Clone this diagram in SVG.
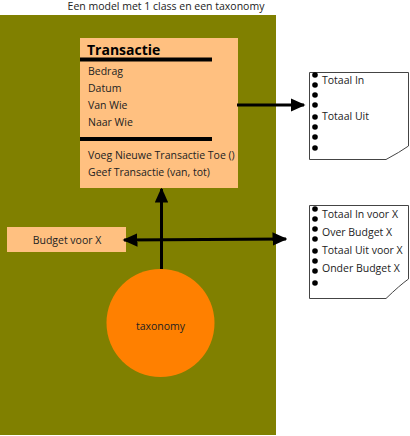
<svg xmlns="http://www.w3.org/2000/svg" width="410" height="436" viewBox="0 0 410 436">
<defs>
<style>
text{font-family:"Open Sans","Noto Sans","Liberation Sans",sans-serif;font-size:10.5px;fill:#222}
.ttl{font-weight:bold;font-size:14px;fill:#000}
.cls{fill:#ffc080}
.bar{stroke:#000;stroke-width:4}
.con{stroke:#000;stroke-width:3;fill:none}
.doc{fill:#fff;stroke:#444;stroke-width:1}
.dot{fill:#000}
</style>
<marker id="ah" viewBox="0 0 10 10" refX="9" refY="5" markerWidth="5" markerHeight="4.5" orient="auto-start-reverse" markerUnits="strokeWidth" preserveAspectRatio="none">
<path d="M0,0 L10,5 L0,10 z" fill="#000"/>
</marker>
</defs>
<rect width="410" height="436" fill="#fff"/>
<text x="166" y="10" text-anchor="middle">Een model met 1 class en een taxonomy</text>
<rect id="bg" x="0" y="15" width="276" height="420" fill="#808000"/>

<g id="transactie">
<rect class="cls" x="80" y="38" width="158" height="150"/>
<text class="ttl" x="87" y="55">Transactie</text>
<line class="bar" x1="80" y1="59.5" x2="212" y2="59.5"/>
<text x="88" y="75">Bedrag</text>
<text x="88" y="92">Datum</text>
<text x="88" y="109">Van Wie</text>
<text x="88" y="126">Naar Wie</text>
<line class="bar" x1="80" y1="139" x2="212" y2="139"/>
<text x="88" y="159">Voeg Nieuwe Transactie Toe ()</text>
<text x="88" y="176">Geef Transactie (van, tot)</text>
</g>

<g id="budget">
<rect class="cls" x="7" y="227" width="119" height="25"/>
<text x="67" y="244" text-anchor="middle">Budget voor X</text>
</g>

<g id="taxonomy">
<circle cx="160.5" cy="323" r="54" fill="#ff8000"/>
<text x="160.5" y="330" text-anchor="middle">taxonomy</text>
</g>

<g id="doc1">
<path class="doc" d="M309.5,72.5 H408.5 V146 Q400,152 386,159.5 H309.5 Z"/>
<g class="dot">
<circle cx="315" cy="75" r="2.8"/><circle cx="315" cy="85" r="2.8"/><circle cx="315" cy="95" r="2.8"/><circle cx="315" cy="105" r="2.8"/>
<circle cx="315" cy="117" r="2.8"/><circle cx="315" cy="127" r="2.8"/><circle cx="315" cy="137" r="2.8"/><circle cx="315" cy="148" r="2.8"/>
</g>
<text x="322" y="84">Totaal In</text>
<text x="322" y="120">Totaal Uit</text>
</g>

<g id="doc2">
<path class="doc" d="M309.5,205.5 H408.5 V279 Q400,285 386,298.5 H309.5 Z"/>
<g class="dot">
<circle cx="315" cy="209" r="2.8"/><circle cx="315" cy="219" r="2.8"/><circle cx="315" cy="229" r="2.8"/><circle cx="315" cy="239" r="2.8"/>
<circle cx="315" cy="251" r="2.8"/><circle cx="315" cy="261" r="2.8"/><circle cx="315" cy="271" r="2.8"/><circle cx="315" cy="283" r="2.8"/>
</g>
<text x="322" y="218">Totaal In voor X</text>
<text x="322" y="236">Over Budget X</text>
<text x="322" y="254">Totaal Uit voor X</text>
<text x="322" y="272">Onder Budget X</text>
</g>

<g id="connectors">
<line class="con" x1="237" y1="105" x2="304" y2="105" marker-end="url(#ah)"/>
<line class="con" x1="161.5" y1="269" x2="161.5" y2="189" marker-end="url(#ah)"/>
<line class="con" x1="124" y1="240" x2="286" y2="239" marker-start="url(#ah)" marker-end="url(#ah)"/>
</g>
</svg>
